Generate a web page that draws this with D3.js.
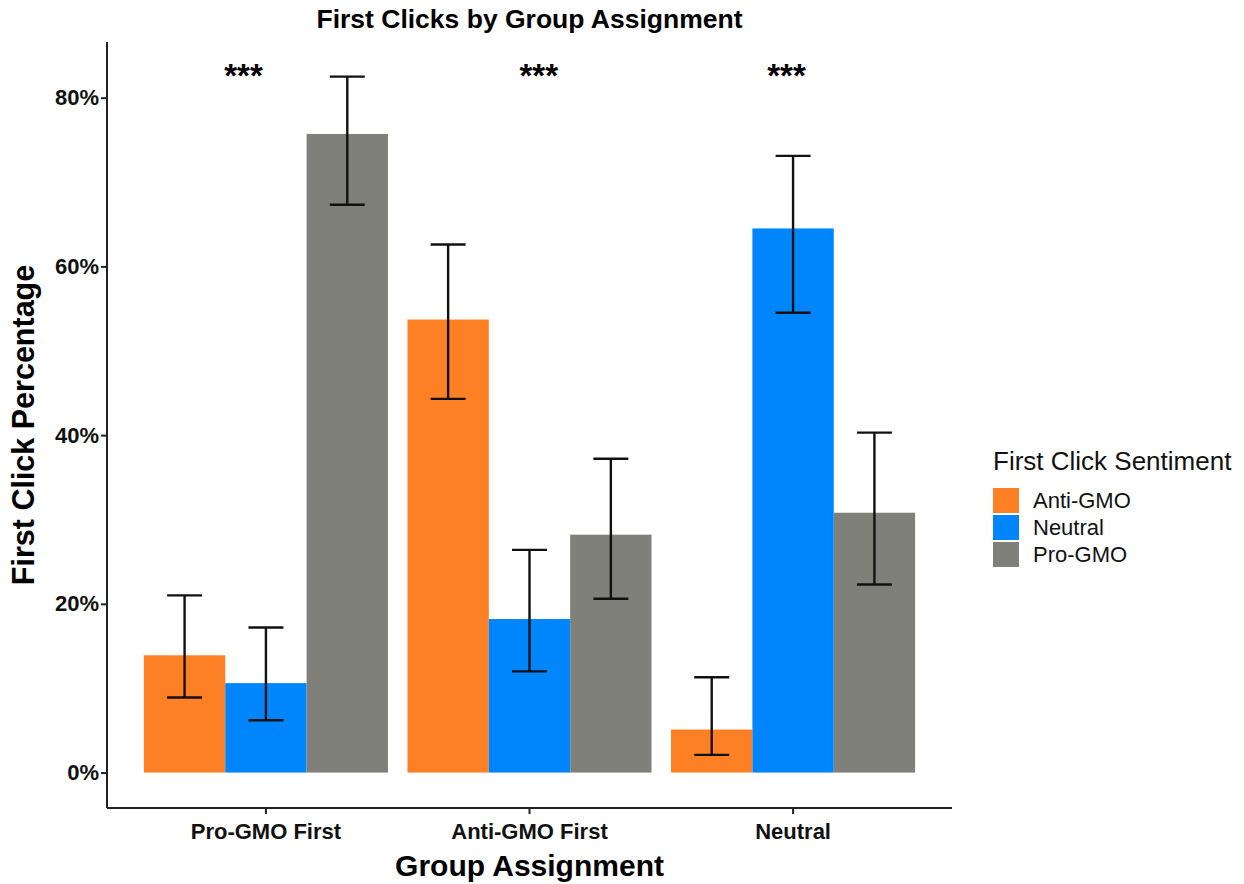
<!DOCTYPE html>
<html>
<head>
<meta charset="utf-8">
<script src="https://cdn.jsdelivr.net/npm/d3@7"></script>
<style>
  body { margin: 0; background: #fff; }
  text { font-family: "Liberation Sans", Arial, sans-serif; }
</style>
</head>
<body>
<svg id="chart" width="1244" height="884"></svg>
<script>
const groups = ['Pro-GMO First', 'Anti-GMO First', 'Neutral']
const sentiments = ['Anti-GMO', 'Neutral', 'Pro-GMO']
const colors = ['#fd8025', '#0086fc', '#80807a']

// percent of first clicks, one array per sentiment (ordered like groups)
const antiGMO = [13.9, 53.7, 5.1]
const neutral = [10.6, 18.2, 64.5]
const proGMO = [75.7, 28.2, 30.8]

const antiLow = [8.9, 44.3, 2.1]
const neutralLow = [6.2, 12.0, 54.5]
const proLow = [67.3, 20.6, 22.3]

const antiHigh = [21.0, 62.6, 11.3]
const neutralHigh = [17.2, 26.4, 73.1]
const proHigh = [82.5, 37.2, 40.3]

const yTicks = [0, 20, 40, 60, 80]
// significance markers, offset from group centre in band steps
const starOffsets = [-0.085, 0.035, -0.025]

const values = [antiGMO, neutral, proGMO]
const lows = [antiLow, neutralLow, proLow]
const highs = [antiHigh, neutralHigh, proHigh]

const dataset = []
sentiments.forEach((s, i) => {
  groups.forEach((g, j) => {
    dataset.push({ group: g, sentiment: s, value: values[i][j], low: lows[i][j], high: highs[i][j] })
  })
})

const margin = { top: 42, right: 292, bottom: 76, left: 107 }
const width = 1244
const height = 884

const svg = d3.select('#chart')

const xScale = d3.scaleBand()
  .domain(groups)
  .range([margin.left, width - margin.right])
  .paddingInner(0.074)
  .paddingOuter(0.14)

const xSub = d3.scaleBand()
  .domain(sentiments)
  .range([0, xScale.bandwidth()])

const yScale = d3.scaleLinear()
  .domain([-4.2, 86.6])
  .range([height - margin.bottom, margin.top])

const color = d3.scaleOrdinal().domain(sentiments).range(colors)

// bars
svg.append('g')
  .selectAll('rect')
  .data(dataset)
  .join('rect')
  .attr('x', (d) => xScale(d.group) + xSub(d.sentiment))
  .attr('y', (d) => yScale(d.value))
  .attr('width', xSub.bandwidth())
  .attr('height', (d) => yScale(0) - yScale(d.value))
  .attr('fill', (d) => color(d.sentiment))

// error bars
const capHalf = xSub.bandwidth() * 0.215
const err = svg.append('g')
  .attr('stroke', '#111')
  .attr('stroke-width', 2.4)
  .selectAll('g')
  .data(dataset)
  .join('g')
  .attr('transform', (d) => `translate(${xScale(d.group) + xSub(d.sentiment) + xSub.bandwidth() / 2},0)`)

err.append('line').attr('y1', (d) => yScale(d.low)).attr('y2', (d) => yScale(d.high))
err.append('line').attr('x1', -capHalf).attr('x2', capHalf).attr('y1', (d) => yScale(d.high)).attr('y2', (d) => yScale(d.high))
err.append('line').attr('x1', -capHalf).attr('x2', capHalf).attr('y1', (d) => yScale(d.low)).attr('y2', (d) => yScale(d.low))

// significance stars
svg.append('g')
  .selectAll('text')
  .data(groups)
  .join('text')
  .attr('x', (d, i) => xScale(d) + xScale.bandwidth() / 2 + starOffsets[i] * xScale.step())
  .attr('y', yScale(80) - 11)
  .attr('text-anchor', 'middle')
  .style('font-size', '33px')
  .style('font-weight', 'bold')
  .text('***')

// axes
const xAxis = svg.append('g')
  .attr('transform', `translate(0,${height - margin.bottom})`)
  .call(d3.axisBottom(xScale).tickSize(6).tickSizeOuter(0))
xAxis.select('.domain').attr('d', `M${margin.left},0H${width - margin.right}`)

const yAxis = svg.append('g')
  .attr('transform', `translate(${margin.left},0)`)
  .call(d3.axisLeft(yScale).tickValues(yTicks).tickFormat((d) => d + '%').tickSize(6).tickSizeOuter(0))
yAxis.select('.domain').attr('d', `M0,${margin.top}V${height - margin.bottom}`)

svg.selectAll('.domain, .tick line').attr('stroke', '#222').attr('stroke-width', 2)
svg.selectAll('.tick text')
  .attr('fill', '#111')
  .style('font-size', '22px')
  .style('font-weight', 'bold')
  .style('font-family', '"Liberation Sans", Arial, sans-serif')
xAxis.selectAll('.tick text').attr('dy', '1.0em')
yAxis.selectAll('.tick text').attr('x', -8)

// titles
svg.append('text')
  .attr('x', (margin.left + width - margin.right) / 2)
  .attr('y', 28)
  .attr('text-anchor', 'middle')
  .style('font-size', '26.5px')
  .style('font-weight', 'bold')
  .text('First Clicks by Group Assignment')

svg.append('text')
  .attr('x', (margin.left + width - margin.right) / 2)
  .attr('y', 876)
  .attr('text-anchor', 'middle')
  .style('font-size', '30px')
  .style('font-weight', 'bold')
  .text('Group Assignment')

svg.append('text')
  .attr('transform', `translate(34,${(margin.top + height - margin.bottom) / 2}) rotate(-90)`)
  .attr('text-anchor', 'middle')
  .style('font-size', '30.5px')
  .style('font-weight', 'bold')
  .text('First Click Percentage')

// legend
const legend = svg.append('g').attr('transform', 'translate(993,470)')
legend.append('text')
  .style('font-size', '26px')
  .attr('fill', '#111')
  .text('First Click Sentiment')

const keys = legend.selectAll('.key')
  .data(sentiments)
  .join('g')
  .attr('class', 'key')
  .attr('transform', (d, i) => `translate(0,${18 + i * 27})`)

keys.append('rect').attr('width', 26).attr('height', 25).attr('fill', (d) => color(d))
keys.append('text')
  .attr('x', 40)
  .attr('y', 20)
  .style('font-size', '22px')
  .attr('fill', '#111')
  .text((d) => d)
</script>
</body>
</html>
